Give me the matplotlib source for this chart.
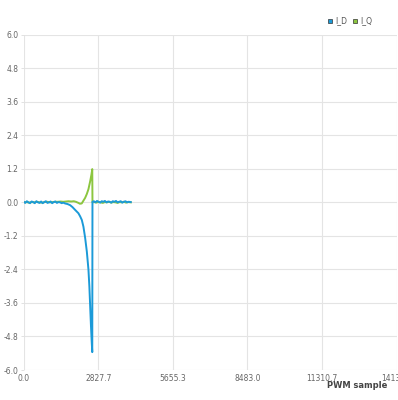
import matplotlib
matplotlib.use("Agg")
import matplotlib.pyplot as plt
from matplotlib.lines import Line2D

# ---- data ----
id_x = [0, 60, 120, 180, 240, 300, 360, 420, 480, 540, 600, 660, 720, 780, 840, 900,
        960, 1020, 1080, 1140, 1200, 1260, 1320, 1380, 1440, 1500, 1570, 1660, 1760,
        1850, 1950, 2075, 2140, 2204, 2265, 2330, 2394, 2455, 2490, 2520, 2550, 2580,
        2600, 2608, 2660, 2720, 2780, 2840, 2900, 2960, 3020, 3080, 3140, 3200, 3260,
        3320, 3380, 3440, 3500, 3560, 3620, 3680, 3740, 3800, 3860, 3920, 3980, 4060]
id_y = [0.02, -0.02, 0.04, 0.00, -0.03, 0.03, 0.01, -0.03, 0.04, 0.00, -0.02, 0.03,
        -0.03, 0.01, 0.04, -0.02, 0.00, 0.03, -0.03, 0.01, 0.03, -0.02, 0.01, 0.00,
        -0.03, -0.01, -0.04, -0.06, -0.10, -0.17, -0.27, -0.39, -0.50, -0.63, -0.87,
        -1.27, -1.76, -2.40, -3.00, -3.70, -4.40, -5.00, -5.36, 0.02, 0.04, 0.00,
        0.05, 0.02, -0.01, 0.04, 0.02, 0.05, 0.00, 0.03, 0.02, -0.01, 0.04, 0.02, 0.05,
        0.00, 0.02, 0.04, -0.01, 0.02, 0.04, 0.00, 0.02, 0.01]

iq_x = [0, 100, 200, 300, 400, 500, 600, 700, 800, 900, 1000, 1100, 1200, 1300,
        1400, 1500, 1600, 1700, 1800, 1900, 1980, 2075, 2130, 2200, 2265, 2330, 2394,
        2455, 2520, 2570, 2600, 2608, 2680, 2760, 2840, 2920, 3000, 3080, 3160, 3240,
        3320, 3400, 3480, 3560, 3640, 3720, 3800, 3880, 3960, 4060]
iq_y = [0.00, 0.01, -0.01, 0.01, 0.00, 0.02, 0.00, -0.01, 0.01, 0.02, 0.00, 0.01,
        0.02, 0.02, 0.03, 0.02, 0.03, 0.04, 0.03, 0.04, 0.02, -0.02, -0.05, -0.04,
        0.06, 0.16, 0.30, 0.47, 0.75, 1.00, 1.19, 0.00, 0.01, -0.01, 0.02, 0.00,
        -0.02, 0.01, 0.00, 0.02, -0.01, 0.01, 0.00, -0.02, 0.01, 0.00, 0.02, -0.01,
        0.01, 0.00]

series_names = ["I_D", "I_Q"]
series_colors = ["#1b9ad8", "#8cc63f"]
x_ticks = [0.0, 2827.7, 5655.3, 8483.0, 11310.7, 14138.3]
y_ticks = [6.0, 4.8, 3.6, 2.4, 1.2, 0.0, -1.2, -2.4, -3.6, -4.8, -6.0]

# ---- figure ----
fig = plt.figure(figsize=(3.98, 4.0), dpi=100)
ax = fig.add_axes([23.7 / 398, 1 - 370 / 400, (396.5 - 23.7) / 398, (370 - 34.7) / 400])

ax.plot(iq_x, iq_y, color=series_colors[1], lw=1.4, zorder=3)
ax.plot(id_x, id_y, color=series_colors[0], lw=1.4, zorder=4)

ax.set_xlim(0, 14138.3)
ax.set_ylim(-6.0, 6.0)
ax.set_xticks(x_ticks)
ax.set_xticklabels([f"{v:.1f}" for v in x_ticks])
ax.set_yticks(y_ticks)
ax.set_yticklabels([f"{v:.1f}" for v in y_ticks])

for s in ax.spines.values():
    s.set_visible(False)
ax.grid(True, color="#e4e4e4", lw=0.8, zorder=0)
ax.tick_params(axis="both", labelsize=5.5, colors="#666666", length=2.5, width=0.6,
               pad=1.5)
ax.tick_params(axis="x", length=0, pad=3)
ax.tick_params(axis="y", color="#dddddd")

fig.text(357 / 398, 1 - 386 / 400, "PWM sample", fontsize=6, fontweight="bold",
         color="#444444", ha="center", va="center")

handles = [Line2D([], [], marker="s", ls="none", markersize=3.5,
                  markerfacecolor=c, markeredgecolor="#333333", markeredgewidth=0.5)
           for c in series_colors]
fig.legend(handles, series_names, loc="center", bbox_to_anchor=(350 / 398, 1 - 20.7 / 400),
           ncol=2, frameon=False, fontsize=5.5, handlelength=0.6, handletextpad=0.3,
           columnspacing=0.8, labelcolor="#555555", borderpad=0)

fig.savefig("out.png", dpi=100)
